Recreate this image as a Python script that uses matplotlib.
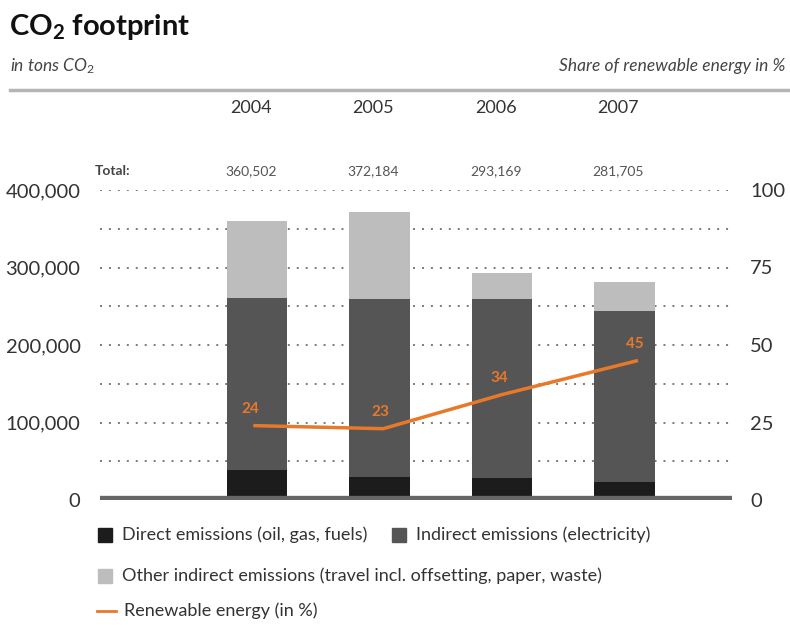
import matplotlib
matplotlib.use("Agg")
import matplotlib.pyplot as plt
from matplotlib.patches import Rectangle
from matplotlib.lines import Line2D
from matplotlib.ticker import FuncFormatter

# ---------------- data ----------------
years = ["2004", "2005", "2006", "2007"]
totals = [360502, 372184, 293169, 281705]
direct = [38700, 30000, 28800, 23600]
indirect_elec = [222000, 229000, 230000, 220500]
other_indirect = [t - d - i for t, d, i in zip(totals, direct, indirect_elec)]
renewable = [24, 23, 34, 45]

left_ticks = [0, 100000, 200000, 300000, 400000]
right_ticks = [0, 25, 50, 75, 100]
series_names = ["Direct emissions (oil, gas, fuels)",
                "Indirect emissions (electricity)",
                "Other indirect emissions (travel incl. offsetting, paper, waste)",
                "Renewable energy (in %)"]

# ---------------- style ----------------
plt.rcParams["font.family"] = ["Lato", "DejaVu Sans"]
plt.rcParams["mathtext.fontset"] = "custom"
plt.rcParams["mathtext.rm"] = "Lato"
plt.rcParams["mathtext.it"] = "Lato:italic"
plt.rcParams["mathtext.bf"] = "Lato:bold"

c_direct = "#1c1c1c"
c_indirect = "#555555"
c_other = "#bdbdbd"
c_orange = "#e8782a"
c_text = "#333333"
c_grid = "#7a7a7a"

W, H = 790, 625
fig = plt.figure(figsize=(W / 100, H / 100), dpi=100)

def fx(px):
    return px / W

def fy(py):
    return 1 - py / H

ax_left, ax_right = 100, 732
ax_top, ax_bot = 190, 500
ax = fig.add_axes([fx(ax_left), fy(ax_bot), fx(ax_right - ax_left), (ax_bot - ax_top) / H])

centers = [257, 379.5, 502, 624.5]
spacing = 122.5
x = list(range(len(years)))
ax.set_xlim(-(centers[0] - ax_left) / spacing, (ax_right - centers[0]) / spacing)
ax.set_ylim(0, 400000)

# dotted grid
for gv in range(50000, 400001, 50000):
    ax.axhline(gv, color=c_grid, lw=1.4, ls=(0, (1, 3.6)), zorder=1)

bw = 60.5 / spacing
ax.bar(x, direct, width=bw, color=c_direct, zorder=2)
ax.bar(x, indirect_elec, width=bw, bottom=direct, color=c_indirect, zorder=2)
bottom2 = [d + i for d, i in zip(direct, indirect_elec)]
ax.bar(x, other_indirect, width=bw, bottom=bottom2, color=c_other, zorder=2)

# baseline
ax.axhline(0, color="#666666", lw=6, zorder=3, solid_capstyle="butt")

for s in ax.spines.values():
    s.set_visible(False)
ax.set_xticks([])
ax.set_yticks(left_ticks)
ax.yaxis.set_major_formatter(FuncFormatter(lambda v, p: f"{int(v):,}"))
ax.tick_params(axis="y", length=0, pad=14, labelsize=14.5, labelcolor=c_text)

# right axis with renewable line
ax2 = ax.twinx()
ax2.set_ylim(0, 100)
for s in ax2.spines.values():
    s.set_visible(False)
ax2.set_yticks(right_ticks)
ax2.tick_params(axis="y", length=0, pad=13, labelsize=14.5, labelcolor=c_text)
line_offsets = [-0.03, 0.03, 0.0, 0.11]
lx = [xi + o for xi, o in zip(x, line_offsets)]
ax2.plot(lx, renewable, color=c_orange, lw=2.5, zorder=5, solid_capstyle="butt")
for xi, v in zip(lx, renewable):
    ax2.annotate(str(v), (xi, v), xytext=(-2, 7), textcoords="offset points",
                 ha="center", va="bottom", color=c_orange, fontsize=11, fontweight="bold")

# years and totals
for c, yr, t in zip(centers, years, totals):
    fig.text(fx(c - 6), fy(108), yr, ha="center", va="center", fontsize=13, color=c_text)
    fig.text(fx(c - 6), fy(171), f"{t:,}", ha="center", va="center", fontsize=10, color="#555555")
fig.text(fx(95), fy(171), "Total:", ha="left", va="center", fontsize=10,
         fontweight="bold", color="#444444")

# title & subtitles
fig.text(fx(9), fy(27), r"CO$_{\mathbf{2}}$ footprint", ha="left", va="center",
         fontsize=21, fontweight="bold", color="#111111")
fig.text(fx(10), fy(66), r"in tons CO$_{\mathit{2}}$", ha="left", va="center",
         fontsize=12.5, style="italic", color="#444444")
fig.text(fx(785), fy(66), "Share of renewable energy in %", ha="right", va="center",
         fontsize=12.5, style="italic", color="#444444")
fig.add_artist(Line2D([fx(10), fx(790)], [fy(90), fy(90)], color="#b5b5b5", lw=2.5,
                      transform=fig.transFigure))

# legend
def square(px, py, color):
    fig.add_artist(Rectangle((fx(px), fy(py + 7)), fx(14), 14 / H, color=color,
                             transform=fig.transFigure))

square(98, 535, c_direct)
fig.text(fx(122), fy(535), series_names[0], ha="left", va="center", fontsize=13, color=c_text)
square(392, 535, c_indirect)
fig.text(fx(416), fy(535), series_names[1], ha="left", va="center", fontsize=13, color=c_text)
square(98, 576, c_other)
fig.text(fx(122), fy(576), series_names[2], ha="left", va="center", fontsize=13, color=c_text)
fig.add_artist(Line2D([fx(97), fx(116)], [fy(611), fy(611)], color=c_orange, lw=2,
                      transform=fig.transFigure))
fig.text(fx(124), fy(611), series_names[3], ha="left", va="center", fontsize=13, color=c_text)

fig.savefig("out.png", dpi=100)
